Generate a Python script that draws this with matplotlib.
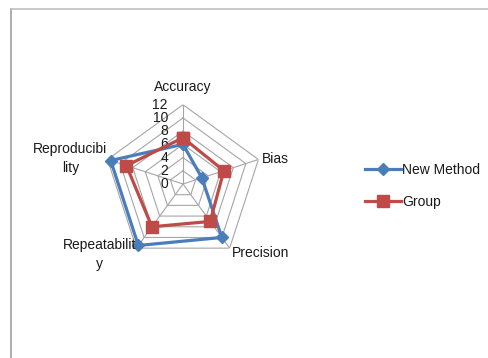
import numpy as np
import matplotlib
matplotlib.use("Agg")
import matplotlib.pyplot as plt
from matplotlib.lines import Line2D

categories = ["Accuracy", "Bias", "Precision", "Repeatabilit\ny", "Reproducibi\nlity"]
new_method = [6, 3, 10, 11.5, 11.5]
group = [7, 6.5, 7, 8, 9]
ticks = [0, 2, 4, 6, 8, 10, 12]
series_names = ["New Method", "Group"]

W, H = 489, 358
fig = plt.figure(figsize=(W / 100, H / 100), dpi=100)
fig.patch.set_facecolor("white")
plt.rcParams['font.family'] = ['Liberation Sans', 'DejaVu Sans']

cx, cy, R = 183, 184, 79.3
ax = fig.add_axes([(cx - R) / W, 1 - (cy + R) / H, 2 * R / W, 2 * R / H], projection="polar")
ax.set_theta_zero_location("N")
ax.set_theta_direction(-1)
ax.set_ylim(0, 12)
ax.grid(False)
ax.spines["polar"].set_visible(False)
ax.set_xticks([])
ax.set_yticks([])
ax.patch.set_alpha(0)

n = len(categories)
theta = np.linspace(0, 2 * np.pi, n, endpoint=False)
theta_c = np.append(theta, theta[0])

grid_col = "#a6a6a6"
for r in ticks[1:]:
    ax.plot(theta_c, [r] * (n + 1), color=grid_col, lw=0.8, zorder=1)
for t in theta:
    ax.plot([t, t], [0, ticks[-1]], color=grid_col, lw=0.8, zorder=1)

blue = "#4a7ebb"
red = "#be4b48"
ax.plot(theta_c, new_method + new_method[:1], color=blue, lw=2.3, marker="D",
        markersize=6, zorder=3, label=series_names[0], clip_on=False)
ax.plot(theta_c, group + group[:1], color=red, lw=2.3, marker="s",
        markersize=8.5, zorder=4, label=series_names[1], clip_on=False)

fs = 10
tc = "#1a1a1a"
for r in ticks:
    ax.annotate(str(r), xy=(0, r), xytext=(-15, 0), textcoords="offset pixels",
                ha="right", va="center", fontsize=fs, color=tc, annotation_clip=False)

offsets = [((0, 11), "center", "bottom"),
           ((3, 0), "left", "center"),
           ((2, -5), "left", "center"),
           ((0, -6.5), "right", "center"),
           ((0, 1), "right", "center")]
for t, lab, (off, ha, va) in zip(theta, categories, offsets):
    ax.annotate(lab, xy=(t, ticks[-1]), xytext=off, textcoords="offset pixels",
                ha=ha, va=va, multialignment="center", linespacing=1.5,
                fontsize=fs, color=tc, annotation_clip=False)

leg = fig.legend(loc="center left", bbox_to_anchor=(352 / W, 1 - 186 / H),
                 frameon=False, fontsize=fs, handlelength=2.6, handletextpad=0.1,
                 labelspacing=1.3)
for txt in leg.get_texts():
    txt.set_color(tc)

fig.add_artist(Line2D([10.5 / W, 10.5 / W], [0, 1 - 8.5 / H], transform=fig.transFigure,
                      color="#a0a0a0", lw=1.2))
fig.add_artist(Line2D([10.5 / W, 1], [1 - 8.5 / H, 1 - 8.5 / H], transform=fig.transFigure,
                      color="#c0c0c0", lw=1.2))

fig.savefig("out.png", dpi=100, facecolor="white")
